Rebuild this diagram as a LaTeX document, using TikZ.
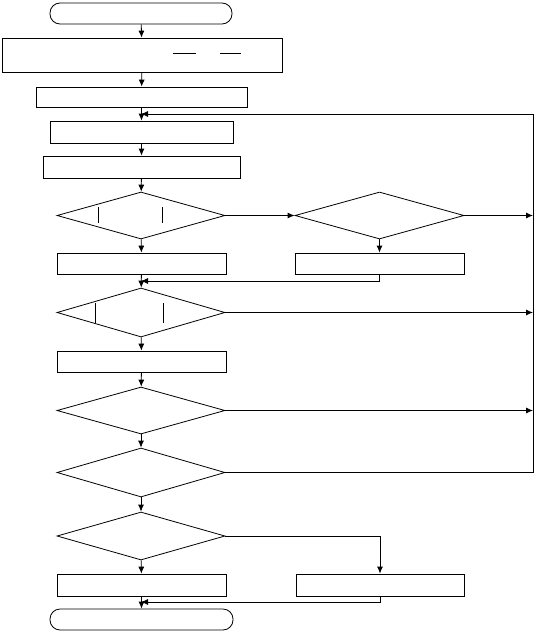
\documentclass[tikz,border=0pt]{standalone}
\usepackage{tikz}
\usetikzlibrary{shapes.geometric, arrows.meta, positioning}

\begin{document}
\begin{tikzpicture}[x=1pt, y=-1pt, line width=0.8pt,
    term/.style={rectangle, draw, rounded corners=10pt, inner sep=0pt, minimum height=21pt},
    box/.style={rectangle, draw, inner sep=0pt, minimum height=21pt},
    decision/.style={diamond, draw, inner sep=0pt, minimum width=168pt, minimum height=47pt},
    arrow/.style={->, >={Latex[length=7pt, width=6pt]}}
]
    \useasboundingbox (0,0) rectangle (537,632);

    % main column
    \node[term] (start) at (141,13.5) [minimum width=182pt] {};
    \node[box] (init) at (142,55) [minimum width=280pt, minimum height=34pt] {};
    \node[box] (prep) at (141.5,97) [minimum width=211pt, minimum height=20pt] {};
    \node[box] (read) at (141.5,132) [minimum width=183pt, minimum height=22pt] {};
    \node[box] (calc) at (141.5,167) [minimum width=197pt, minimum height=22pt] {};
    \node[decision] (chkA) at (141,215.5) {};
    \node[box] (setA) at (141.5,263.5) [minimum width=169pt] {};
    \node[decision] (chkC) at (141,312.5) [minimum height=49pt] {};
    \node[box] (setC) at (141.5,361.5) [minimum width=169pt] {};
    \node[decision] (chkD) at (141,410.5) {};
    \node[decision] (chkE) at (141,472.5) [minimum height=49pt] {};
    \node[decision] (chkF) at (141,536) [minimum height=48pt] {};
    \node[box] (outA) at (141.5,585) [minimum width=169pt, minimum height=22pt] {};
    \node[term] (stop) at (141.5,619.5) [minimum width=183pt] {};

    % right column
    \node[decision] (chkB) at (379.5,215.5) [minimum width=169pt] {};
    \node[box] (setB) at (379.5,263.5) [minimum width=169pt] {};
    \node[box] (outB) at (380,585) [minimum width=168pt, minimum height=22pt] {};

    \coordinate (loop) at (141,114);
    \coordinate (rail) at (533,114);
    \coordinate (joinA) at (141,281);
    \coordinate (joinB) at (141,602);

    % marks left in the boxes
    \draw (173,53) -- (196,53);
    \draw (220,53) -- (241,53);
    \draw (98,207) -- (98,223);
    \draw (162,207) -- (162,223);
    \draw (95,303) -- (95,323);
    \draw (163,303) -- (163,323);

    \draw[arrow] (start) -- (init);
    \draw[arrow] (init) -- (prep);
    \draw[arrow] (prep) -- (read);
    \draw[arrow] (read) -- (calc);
    \draw[arrow] (calc) -- (chkA);
    \draw[arrow] (chkA) -- (setA);
    \draw[arrow] (chkA) -- (chkB);
    \draw[arrow] (chkB) -- (setB);
    \draw[arrow] (setB.south) |- (joinA);
    \draw[arrow] (setA) -- (chkC);
    \draw[arrow] (chkC) -- (setC);
    \draw[arrow] (setC) -- (chkD);
    \draw[arrow] (chkD) -- (chkE);
    \draw[arrow] (chkE) -- (chkF);
    \draw[arrow] (chkF) -- (outA);
    \draw[arrow] (chkF.east) -| (outB.north);
    \draw[arrow] (outA) -- (stop);
    \draw[arrow] (outB.south) |- (joinB);

    % back to the loop start
    \draw[arrow] (chkB.east) -- (chkB.east -| rail);
    \draw[arrow] (chkC.east) -- (chkC.east -| rail);
    \draw[arrow] (chkD.east) -- (chkD.east -| rail);
    \draw[arrow] (chkE.east) -| (rail) -- (loop);
\end{tikzpicture}
\end{document}
